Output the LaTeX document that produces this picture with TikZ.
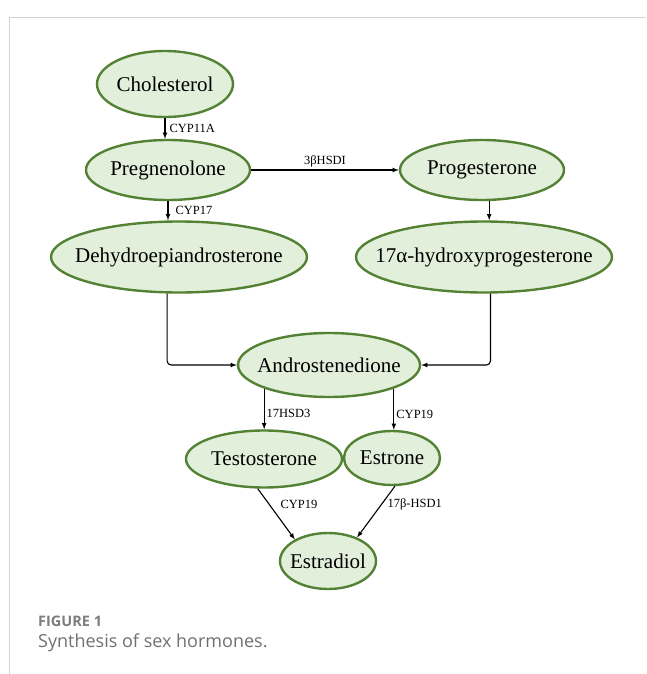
\documentclass[tikz,border=0pt]{standalone}
\usepackage{fontspec}
\setmainfont{Liberation Serif}
\newfontfamily\capfont{Open Sans}
\usepackage{xcolor}
\usepackage{tikz}
\usetikzlibrary{positioning,shapes.geometric}

\definecolor{hormfill}{RGB}{226,239,218}
\definecolor{hormline}{RGB}{84,130,53}
\definecolor{capgray}{RGB}{125,125,125}
\newcommand{\hname}[1]{\makebox[0pt]{#1}}

\begin{document}
\begin{tikzpicture}[x=1pt,y=-1pt,>=latex]
	\tikzset{horm/.style={ellipse,draw=hormline,fill=hormfill,line width=2.4pt,inner sep=0pt,font=\fontsize{21}{21}\selectfont}}
	\tikzset{enz/.style={font=\fontsize{12.5}{12.5}\selectfont,inner sep=1pt}}
	\tikzset{conn/.style={->,line width=1.1pt}}
%	\tikzset{every node/.style={draw=red}}
	\useasboundingbox (0,0) rectangle (646,674);
	\draw[gray!35,line width=1pt] (9,674) -- (9,18) -- (646,18);

\node[horm,minimum width=136pt,minimum height=66pt] (chol) at (165,84) {\hname{Cholesterol}};
\node[horm,minimum width=164pt,minimum height=60pt] (preg) at (168,170) {\hname{Pregnenolone}};
\node[horm,minimum width=164pt,minimum height=60pt] (prog) at (482,170) {\hname{Progesterone}};
\node[horm,minimum width=256pt,minimum height=71pt] (dhea) at (179,257) {\hname{Dehydroepiandrosterone}};
\node[horm,minimum width=256pt,minimum height=71pt] (hydroxy) at (484,257) {\hname{17α-hydroxyprogesterone}};
\node[horm,minimum width=182pt,minimum height=64pt] (andro) at (329,365) {\hname{Androstenedione}};
\node[horm,minimum width=156pt,minimum height=57pt] (testo) at (264,459) {\hname{Testosterone}};
\node[horm,minimum width=96pt,minimum height=54pt] (estrone) at (392,458) {\hname{Estrone}};
\node[horm,minimum width=96pt,minimum height=56pt] (estradiol) at (328,561) {\hname{Estradiol}};

\draw[conn] (chol.south) -- (chol.south |- preg.north)
	node[enz,midway,right=3pt] (cyp11a) {CYP11A};
\draw[conn] (preg.east) -- (prog.west)
	node[enz,midway,above=1pt] (hsdi) {3βHSDI};
\draw[conn] (preg.south) -- (preg.south |- dhea.north)
	node[enz,midway,right=6pt] (cyp17) {CYP17};
\draw[conn] (prog.283) -- (prog.283 |- hydroxy.north);
\draw[conn,rounded corners=4pt] (dhea.252) |- (andro.west);
\draw[conn,rounded corners=4pt] (hydroxy.280) |- (andro.east);
\draw[conn] (andro.200) -- (andro.200 |- testo.north)
	node[enz,pos=0.62,right=1pt] (hsd3) {17HSD3};
\draw[conn] (andro.340) -- (andro.340 |- estrone.north)
	node[enz,pos=0.62,right=1pt] (cyp19a) {CYP19};
\draw[conn] (testo.258) -- (estradiol.147)
	node[enz,anchor=west] (cyp19b) at (279,504) {CYP19};
\draw[conn] (estrone.276) -- (estradiol.39)
	node[enz,anchor=west] (hsd1) at (386,504) {17β-HSD1};

\node[anchor=west,text=capgray,font=\capfont\bfseries\fontsize{14.5}{14.5}\selectfont,inner sep=0pt] (fig) at (38,621) {FIGURE 1};
\node[anchor=west,text=capgray!90!black,font=\capfont\fontsize{18}{18}\selectfont,inner sep=0pt] (cap) at (38,643) {Synthesis of sex hormones.};

	\end{tikzpicture}
\end{document}
